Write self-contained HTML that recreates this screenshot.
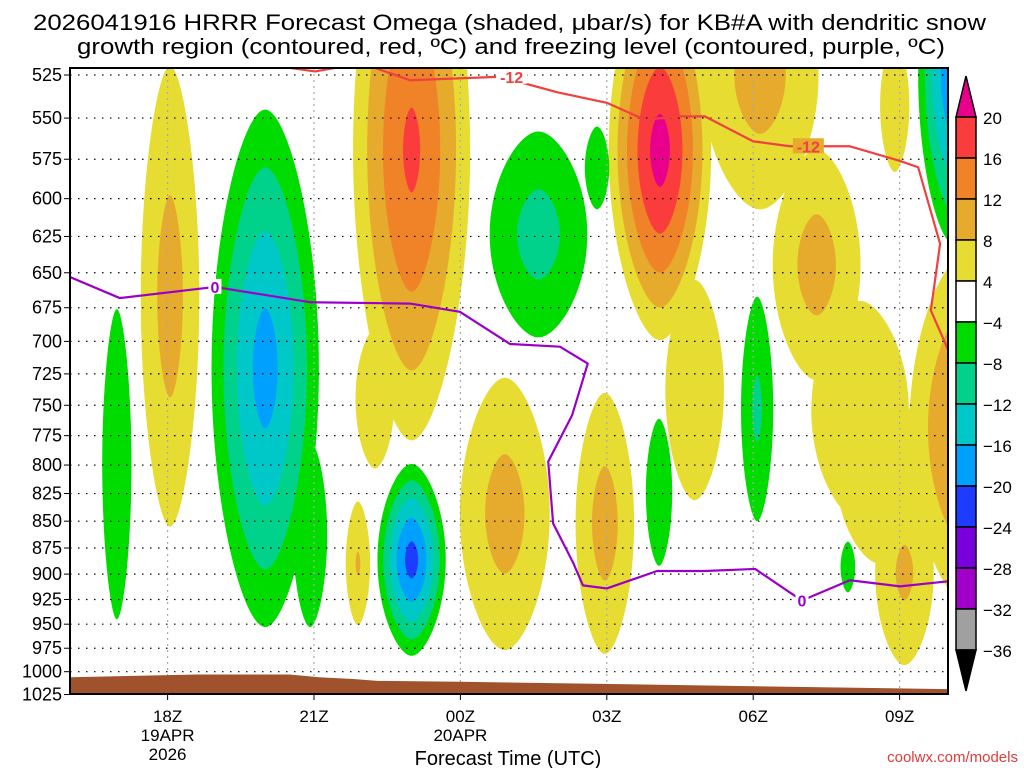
<!DOCTYPE html>
<html><head><meta charset="utf-8"><style>
html,body{margin:0;padding:0;background:#fff;}
svg{display:block;font-family:"Liberation Sans",sans-serif;}
</style></head><body>
<svg id="chart" width="1024" height="768" viewBox="0 0 1024 768" xmlns="http://www.w3.org/2000/svg">
<defs><clipPath id="plotclip"><rect x="70" y="68" width="878" height="626"/></clipPath></defs>
<text x="33" y="30" font-size="22" textLength="953" lengthAdjust="spacingAndGlyphs">2026041916 HRRR Forecast Omega (shaded, μbar/s) for KB#A with dendritic snow</text>
<text x="77" y="54" font-size="22" textLength="868" lengthAdjust="spacingAndGlyphs">growth region (contoured, red, ºC) and freezing level (contoured, purple, ºC)</text>
<g id="grid"></g>
<g id="field" clip-path="url(#plotclip)"></g>
<g id="gridtop" clip-path="url(#plotclip)"></g>
<g id="lines" clip-path="url(#plotclip)"></g>
<rect x="70" y="68" width="878" height="626" fill="none" stroke="#000" stroke-width="2"/>
<g id="axes"></g>
<g id="cbar"></g>
<text x="508" y="765" font-size="20" text-anchor="middle">Forecast Time (UTC)</text>
<text x="1018" y="762" font-size="15" text-anchor="end" fill="#e03c3c">coolwx.com/models</text>
</svg>
<script>
// ---- data ----
const pressureTicks = [525,550,575,600,625,650,675,700,725,750,775,800,825,850,875,900,925,950,975,1000,1025];
const timeTickHours = [2,5,8,11,14,17];
const timeTickLabels = ["18Z","21Z","00Z","03Z","06Z","09Z"];
const dateLabels = [["19APR","2026"],[],["20APR"],[],[],[]];
// omega blobs: hour (since 16Z), half width (h), top p, bottom p, peak (μbar/s)
const blobHour  = [2.05,7.0,6.25,5.9,8.91,10.96,12.09,12.8,14.14,15.3,16.19,18.4,16.9,17.1,16.6, 0.96,4.0,4.92,7.0,9.6,10.8,12.07,14.08,15.94,18.1];
const blobHalfW = [0.6,1.2,0.4,0.25,0.92,0.6,1.05,0.6,1.2,0.9,1.0,1.2,0.3,0.6,0.9, 0.3,1.1,0.35,0.7,1.0,0.25,0.27,0.33,0.15,0.72];
const blobPTop  = [520,416,691,832,728,740,464,655,454,569,670,636,505,813,730, 676,545,780,799,558,555,761,667,869,437];
const blobPBot  = [855,779,803,951,977,981,699,831,607,730,849,929,583,993,890, 945,953,953,983,697,607,892,850,918,630];
const blobPeak  = [10,17,5,8.5,10,10,22,6,10,10,7,14,6,9,6, -6,-18,-6,-22,-10,-6,-6,-9,-5,-20];
// -12C isotherm
const isoHours = [4.51,5.02,5.64,6.15,6.97,8.81,10.0,11.0,11.78,12.5,13.01,14.0,14.75,15.98,17.0,17.38,17.83,17.64,17.99];
const isoPres  = [521,523,520,520,528,526,535,541,551,549,549,564,567,567,576,580,630,677,706];
// freezing level 0C
const frzHours = [0,1.02,2.97,4.92,6.97,7.99,9.02,10.04,10.61,10.29,9.8,9.9,10.31,10.51,11.0,12.03,13.01,14.04,14.75,15.0,15.98,17.01,17.99];
const frzPres  = [653,668,660,671,672,678,702,704,717,758,797,852,889,911,914,897,897,895,918,926,906,912,907];
// surface pressure
const sfcHours = [0,2.6,4.5,5.1,5.8,6.3,8,18];
const sfcPres  = [1006,1003,1003,1006,1008,1010,1011,1019];
const posLevels = [4,8,12,16,20];
const posColors = ["#e6dc32","#e6aa2d","#f08228","#fa3c3c","#e8008c"];
const negLevels = [4,8,12,16,20,24,28,32];
const negColors = ["#00dc00","#00d28c","#00c8c8","#00a0ff","#1e3cff","#7800dc","#a000c8","#a0a0a0"];
const cbarLabels = ["20","16","12","8","4","−4","−8","−12","−16","−20","−24","−28","−32","−36"];

// ---- axes ----
const NS="http://www.w3.org/2000/svg";
const X = h => 70 + h*48.8;
const Y = p => 75 + 926*Math.log(p/525);
function mk(tag, attrs, parent){const e=document.createElementNS(NS,tag);for(const k in attrs)e.setAttribute(k,attrs[k]);parent.appendChild(e);return e;}
const grid=document.getElementById('grid'), field=document.getElementById('field'),
 gridtop=document.getElementById('gridtop'), lines=document.getElementById('lines'),
 axes=document.getElementById('axes'), cbar=document.getElementById('cbar');

function lens(cx,cyTop,cyBot,rx){
  const cy=(cyTop+cyBot)/2, r1=cy-cyTop, r2=cyBot-cy;
  return `M${cx},${cy-r1} C${cx+0.4*rx},${cy-r1} ${cx+rx},${cy-0.55*r1} ${cx+rx},${cy} C${cx+rx},${cy+0.55*r2} ${cx+0.4*rx},${cy+r2} ${cx},${cy+r2} C${cx-0.4*rx},${cy+r2} ${cx-rx},${cy+0.55*r2} ${cx-rx},${cy} C${cx-rx},${cy-0.55*r1} ${cx-0.4*rx},${cy-r1} ${cx},${cy-r1} Z`;
}
function drawSign(sign, levels, colors){
  levels.forEach((L,li)=>{
    blobPeak.forEach((pk,i)=>{
      const a = pk*sign; if(a<=L) return;
      const s = Math.pow((a-L)/(a-4),0.75);
      const yT=Y(blobPTop[i]), yB=Y(blobPBot[i]), cy=(yT+yB)/2;
      const hh=(yB-yT)/2*s, rx=blobHalfW[i]*48.8*s;
      const el=mk('path',{d:lens(X(blobHour[i]),cy-hh,cy+hh,rx),fill:colors[li]},field);
      
      
    });
  });
}
drawSign(1,posLevels,posColors);
drawSign(-1,negLevels,negColors);

pressureTicks.forEach(p=>{
  const y=Y(p);
  const g=mk('line',{x1:70,x2:948,y1:y,y2:y,stroke:'#000','stroke-width':1.2,'stroke-dasharray':'1.5 6.5'},gridtop);
  
  
  const t=mk('line',{x1:64,x2:70,y1:y,y2:y,stroke:'#000','stroke-width':1},axes);
  
  
  const tx=mk('text',{x:62,y:y+6,'font-size':18,'text-anchor':'end'},axes);
  tx.textContent=p;
  
  
});
timeTickHours.forEach((h,i)=>{
  const x=X(h);
  const g=mk('line',{x1:x,x2:x,y1:68,y2:694,stroke:'#aaa','stroke-width':1.2,'stroke-dasharray':'2 4'},gridtop);
  
  
  const t=mk('line',{x1:x,x2:x,y1:694,y2:700,stroke:'#000','stroke-width':1},axes);
  
  
  const tx=mk('text',{x:x,y:722,'font-size':17,'text-anchor':'middle'},axes);
  tx.textContent=timeTickLabels[i];
  
  
  dateLabels[i].forEach((d,j)=>{
    const dt=mk('text',{x:x,y:741+j*19,'font-size':17,'text-anchor':'middle'},axes);
    dt.textContent=d;
    
    
  });
});

let sp=`M${X(sfcHours[0])},700 `+sfcHours.map((h,i)=>`L${X(h)},${Y(sfcPres[i])}`).join(' ')+` L${X(sfcHours[sfcHours.length-1])},700 Z`;
const sf=mk('path',{d:sp,fill:'#a0522d'},lines);



function poly(hs,ps,color,name){
  const d=hs.map((h,i)=>(i?'L':'M')+X(h)+','+Y(ps[i])).join(' ');
  const el=mk('path',{d:d,fill:'none',stroke:color,'stroke-width':2.2,'stroke-linejoin':'round'},lines);
  
  
}
poly(isoHours,isoPres,'#f04040','minus-12c-isotherm');
poly(frzHours,frzPres,'#9a00c8','freezing-level-line');
function lbl(h,p,txt,color,name,bg){
  const x=X(h),y=Y(p);
  const w=txt.length*9+4;
  const r=mk('rect',{x:x-w/2,y:y-8,width:w,height:15,fill:bg},lines);
  
  
  const t=mk('text',{x:x,y:y+6,'font-size':16,'font-weight':'bold','text-anchor':'middle',fill:color},lines);
  t.textContent=txt;
  
  
}
lbl(9.05,526,'-12','#f04040','isotherm-label','#fff');
lbl(15.13,567,'-12','#f04040','isotherm-label','#e6aa2d');
lbl(2.97,660,'0','#9a00c8','freezing-level-label','#fff');
lbl(15.0,926,'0','#9a00c8','freezing-level-label','#fff');

const cbX=956, cbW=20, cbTop=117, cbStep=41;
const cbColors=["#fa3c3c","#f08228","#e6aa2d","#e6dc32","#ffffff","#00dc00","#00d28c","#00c8c8","#00a0ff","#1e3cff","#7800dc","#a000c8","#a0a0a0"];
const tri1=mk('path',{d:`M${cbX},${cbTop} L${cbX+cbW/2},76 L${cbX+cbW},${cbTop} Z`,fill:'#e8008c',stroke:'#000','stroke-width':1.5},cbar);


cbColors.forEach((c,i)=>{
  const r=mk('rect',{x:cbX,y:cbTop+i*cbStep,width:cbW,height:cbStep,fill:c,stroke:'#000','stroke-width':1.5},cbar);
  
  
});
const bot=cbTop+cbColors.length*cbStep;
const tri2=mk('path',{d:`M${cbX},${bot} L${cbX+cbW/2},691 L${cbX+cbW},${bot} Z`,fill:'#000',stroke:'#000','stroke-width':1.5},cbar);


cbarLabels.forEach((s,i)=>{
  const t=mk('text',{x:983,y:cbTop+i*cbStep+7,'font-size':17},cbar);
  t.textContent=s;
  
  
});
</script>
</body></html>
